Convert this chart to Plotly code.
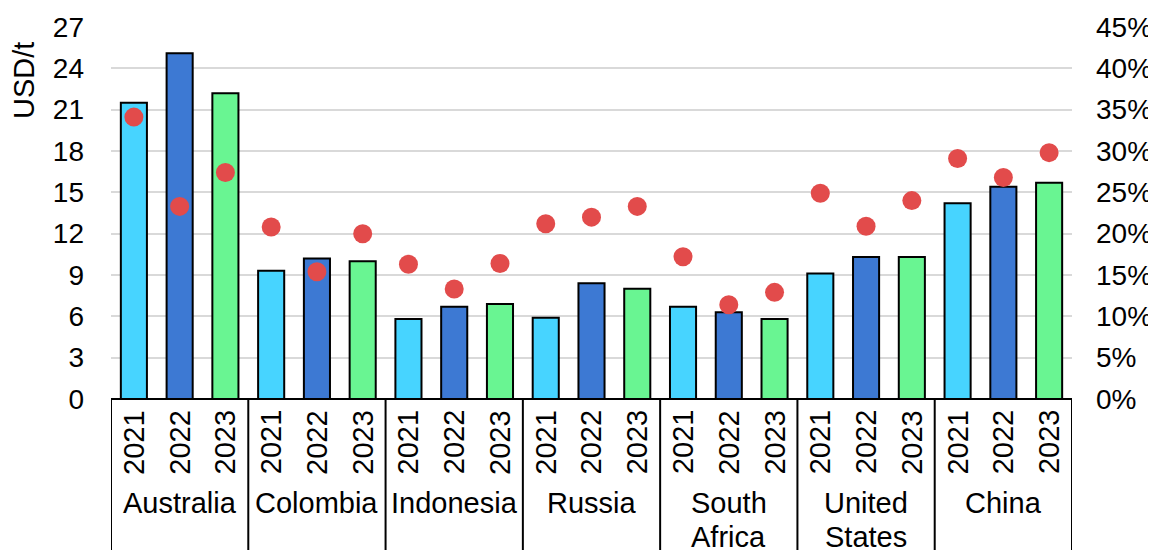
import plotly.graph_objects as go

countries = ["Australia", "Colombia", "Indonesia", "Russia", "South<br>Africa", "United<br>States", "China"]
years = ["2021", "2022", "2023"]
cost_2021 = [21.5, 9.3, 5.8, 5.9, 6.7, 9.1, 14.2]
cost_2022 = [25.1, 10.2, 6.7, 8.4, 6.3, 10.3, 15.4]
cost_2023 = [22.2, 10.0, 6.9, 8.0, 5.8, 10.3, 15.7]
share_2021 = [34.1, 20.8, 16.3, 21.2, 17.2, 24.9, 29.1]
share_2022 = [23.3, 15.4, 13.3, 22.0, 11.4, 20.9, 26.8]
share_2023 = [27.4, 20.0, 16.4, 23.3, 12.9, 24.0, 29.8]
y_ticks = list(range(0, 28, 3))
pct_ticks = list(range(0, 46, 5))

year_colors = ["#47D4FF", "#3D79D3", "#69F592"]
dot_color = "#E24B4B"
FONT = "Arial, 'Liberation Sans', sans-serif"
FS_TICK = 28
FS_LBL = 29

costs = [cost_2021, cost_2022, cost_2023]
shares = [share_2021, share_2022, share_2023]

xs, bar_vals, dot_vals, cols, yr_labels = [], [], [], [], []
for g in range(len(countries)):
    for k in range(len(years)):
        xs.append(g * len(years) + k)
        bar_vals.append(costs[k][g])
        dot_vals.append(shares[k][g])
        cols.append(year_colors[k])
        yr_labels.append(years[k])

fig = go.Figure()
fig.add_trace(go.Bar(
    x=xs, y=bar_vals, width=0.57,
    marker=dict(color=cols, line=dict(color="black", width=2)),
    showlegend=False, hoverinfo="skip"))
fig.add_trace(go.Scatter(
    x=xs, y=dot_vals, mode="markers", yaxis="y2",
    marker=dict(color=dot_color, size=19),
    showlegend=False, hoverinfo="skip"))

n = len(xs)
# year labels
for x, t in zip(xs, yr_labels):
    fig.add_annotation(x=x, y=-0.1156, xref="x", yref="paper", text=t,
                       textangle=-90, showarrow=False, xanchor="center", yanchor="middle",
                       font=dict(family=FONT, size=FS_LBL, color="black"))
# country labels (each line placed separately) and dividers
per = len(years)
line_y = [-0.2796, -0.371]
for g, c in enumerate(countries):
    cx = g * per + (per - 1) / 2
    for li, part in enumerate(c.split("<br>")):
        fig.add_annotation(x=cx, y=line_y[li], xref="x", yref="paper", text=part,
                           showarrow=False, xanchor="center", yanchor="middle",
                           font=dict(family=FONT, size=FS_LBL, color="black"))
for g in range(len(countries) + 1):
    bx = g * per - 0.5
    fig.add_shape(type="line", x0=bx, x1=bx, y0=0, y1=-0.45, xref="x", yref="paper",
                  line=dict(color="black", width=2))
fig.add_shape(type="line", x0=-0.5, x1=n - 0.5, y0=0, y1=0, xref="x", yref="paper",
              line=dict(color="black", width=2))

fig.add_annotation(x=-0.0905, y=0.855, xref="paper", yref="paper", text="USD/t",
                   textangle=-90, showarrow=False, xanchor="center", yanchor="middle",
                   font=dict(family=FONT, size=FS_LBL, color="black"))

# page body has an 8px default margin; size the figure so it fills the window exactly
fig.update_layout(
    width=1148, height=542,
    margin=dict(l=103, r=84, t=19, b=151, autoexpand=False),
    plot_bgcolor="white", paper_bgcolor="white",
    font=dict(family=FONT, size=FS_TICK, color="black"),
    xaxis=dict(range=[-0.5, n - 0.5], showticklabels=False, showgrid=False,
               zeroline=False, showline=False, fixedrange=True, automargin=False),
    yaxis=dict(range=[0, 27], tickvals=y_ticks, showgrid=True, gridcolor="#D9D9D9",
               gridwidth=2, zeroline=False, showline=False, ticks="", automargin=False,
               ticklabelstandoff=26, tickfont=dict(family=FONT, size=FS_TICK, color="black")),
    yaxis2=dict(range=[0, 45], tickvals=pct_ticks, ticktext=[f"{v}%" for v in pct_ticks],
                overlaying="y", side="right", showgrid=False, zeroline=False, showline=False,
                ticks="", ticklabelstandoff=23, automargin=False,
                tickfont=dict(family=FONT, size=FS_TICK, color="black")),
)
fig.write_html("out.html")
